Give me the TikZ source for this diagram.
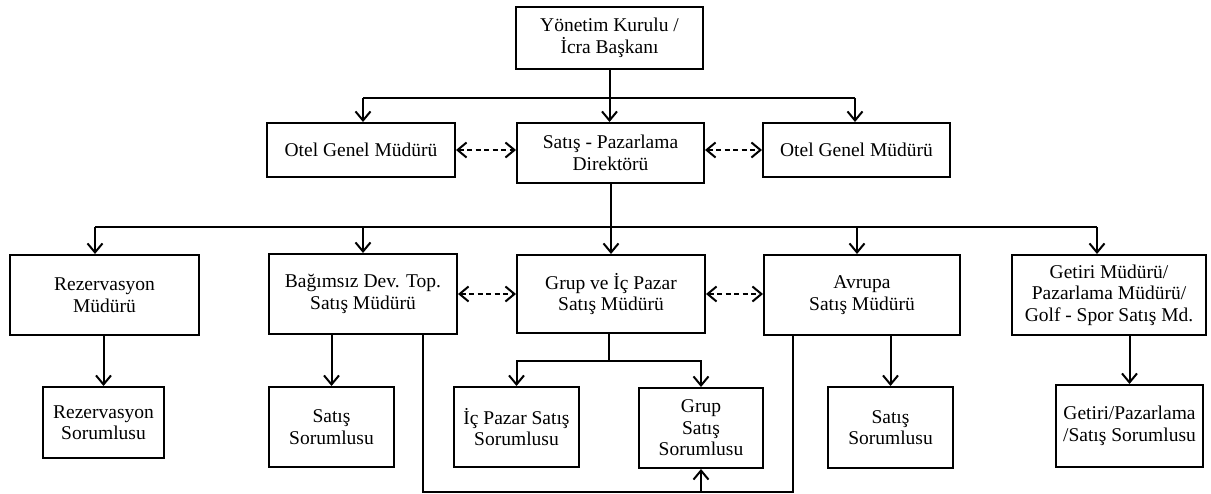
\documentclass[tikz,border=0pt]{standalone}
\usepackage{fontspec}
\setmainfont{Liberation Serif}
\usetikzlibrary{arrows.meta}
\begin{document}
\begin{tikzpicture}[x=1pt,y=-1pt,
  box/.style={draw, line width=2pt, align=center, inner sep=0pt,
    font=\fontsize{19.5}{21.5}\selectfont},
  tip/.tip={Straight Barb[length=9pt,width=15pt,line width=2pt]},
  link/.style={line width=2pt, -tip},
  peer/.style={line width=2pt, dash pattern=on 5pt off 3.5pt, tip-tip},
  wire/.style={line width=2pt}]
\useasboundingbox (0,0) rectangle (1211,494);

% top levels
\node[box, minimum width=187pt, minimum height=62pt] (top) at (609.5,38) {Yönetim Kurulu /\\İcra Başkanı};
\node[box, minimum width=187pt, minimum height=60pt] (sp) at (610.5,153) {Satış - Pazarlama\\Direktörü};
\node[box, minimum width=188pt, minimum height=54pt] (otelL) at (361,150) {Otel Genel Müdürü};
\node[box, minimum width=187pt, minimum height=54pt] (otelR) at (856.5,150) {Otel Genel Müdürü};

% managers
\node[box, minimum width=189pt, minimum height=80pt] (rez) at (104.5,295) {Rezervasyon\\Müdürü};
\node[box, minimum width=188pt, minimum height=80pt] (bag) at (363,294) {Bağımsız Dev. Top.\\Satış Müdürü};
\node[box, minimum width=188pt, minimum height=78pt] (grup) at (611,294) {Grup ve İç Pazar\\Satış Müdürü};
\node[box, minimum width=196pt, minimum height=80pt] (avr) at (862,295) {Avrupa\\Satış Müdürü};
\node[box, minimum width=194pt, minimum height=80pt] (get) at (1109,295) {Getiri Müdürü/\\Pazarlama Müdürü/\\Golf - Spor Satış Md.};

% staff
\node[box, minimum width=121pt, minimum height=71pt] (rezS) at (103.5,422.5) {Rezervasyon\\Sorumlusu};
\node[box, minimum width=125pt, minimum height=80pt] (satS1) at (331.5,427) {Satış\\Sorumlusu};
\node[box, minimum width=125pt, minimum height=80pt] (icS) at (516.5,427) {İç Pazar Satış\\Sorumlusu};
\node[box, minimum width=124pt, minimum height=80pt] (grupS) at (701,428) {Grup\\Satış\\Sorumlusu};
\node[box, minimum width=125pt, minimum height=81pt] (satS2) at (890.5,427.5) {Satış\\Sorumlusu};
\node[box, minimum width=147pt, minimum height=82pt] (getS) at (1129.5,426) {Getiri/Pazarlama\\/Satış Sorumlusu};

% board to directors
\coordinate (b1L) at (363,98);
\coordinate (b1R) at (855,98);
\draw[link] (top.south) -- (top.south |- sp.north);
\draw[wire] (b1L) -- (b1R);
\draw[link] (b1L) -- (b1L |- otelL.north);
\draw[link] (b1R) -- (b1R |- otelR.north);
\draw[peer] (otelL.east) -- (otelL.east -| sp.west);
\draw[peer] (otelR.west -| sp.east) -- (otelR.west);

% director to managers
\coordinate (b2L) at (95,227);
\coordinate (b2R) at (1097,227);
\coordinate (b2a) at (857,227);
\draw[wire] (sp.south) -- (sp.south |- b2L);
\draw[wire] (b2L) -- (b2R);
\draw[link] (b2L) -- (b2L |- rez.north);
\draw[link] (bag.north |- b2L) -- (bag.north);
\draw[link] (grup.north |- b2L) -- (grup.north);
\draw[link] (b2a) -- (b2a |- avr.north);
\draw[link] (b2R) -- (b2R |- get.north);
\draw[peer] (bag.east) -- (bag.east -| grup.west);
\draw[peer] (grup.east) -- (grup.east -| avr.west);

% managers to staff
\draw[link] (rezS.north |- rez.south) -- (rezS.north);
\draw[link] (satS1.north |- bag.south) -- (satS1.north);
\draw[link] (satS2.north |- avr.south) -- (satS2.north);
\draw[link] (getS.north |- get.south) -- (getS.north);
\coordinate (g1) at (609,361);
\draw[wire] (g1 |- grup.south) -- (g1);
\draw[link] (g1) -| (icS.north);
\draw[link] (g1) -| (grupS.north);

% shared line under the group staff
\coordinate (lb) at (423,492);
\coordinate (rb) at (793,492);
\draw[wire] (lb |- bag.south) -- (lb) -- (rb) -- (rb |- avr.south);
\draw[link] (grupS.south |- lb) -- (grupS.south);
\end{tikzpicture}
\end{document}
